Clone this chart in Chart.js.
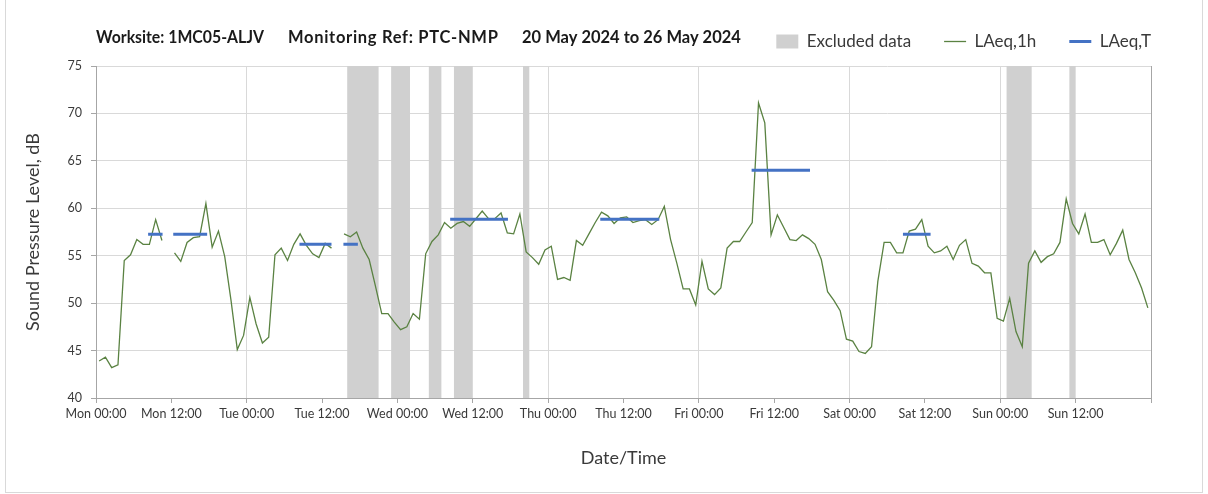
<!DOCTYPE html>
<html>
<head>
<meta charset="utf-8">
<script src="https://cdn.jsdelivr.net/npm/chart.js@4.4.1/dist/chart.umd.min.js"></script>
<style>
  html, body { margin: 0; padding: 0; background: #fff; }
  #wrap { position: absolute; left: 0; top: 0; width: 1208px; height: 494px; }
  #frame { position: absolute; left: 5px; top: -1px; width: 1198px; height: 494px; border: 1px solid #d9d9d9; box-sizing: border-box; pointer-events: none; }
</style>
</head>
<body>
<div id="wrap"><canvas id="myChart"></canvas></div>
<div id="frame"></div>
<script>
// x axis labels, one every 12 hours from Mon 00:00
var tickLabels = ["Mon 00:00", "Mon 12:00", "Tue 00:00", "Tue 12:00", "Wed 00:00", "Wed 12:00",
  "Thu 00:00", "Thu 12:00", "Fri 00:00", "Fri 12:00", "Sat 00:00", "Sat 12:00", "Sun 00:00", "Sun 12:00"];

// hourly LAeq,1h (dB), hour 0 = Mon 00:00
var laeq1h = [
  43.9, 44.3, 43.2, 43.5, 54.5, 55.1, 56.7, 56.2, 56.2, 58.8, 56.6, null,
  55.3, 54.4, 56.4, 56.9, 57.0, 60.5, 55.9, 57.6, 54.9, 50.3, 45.1, 46.6,
  50.6, 47.8, 45.8, 46.4, 55.1, 55.8, 54.5, 56.2, 57.3, 56.1, 55.2, 54.8,
  56.3, 55.8, null, 57.3, 57.0, 57.5, 55.8, 54.6, 51.8, 48.9, 48.9, 48.0,
  47.2, 47.5, 48.9, 48.3, 55.2, 56.5, 57.2, 58.5, 57.9, 58.4, 58.6, 58.1,
  58.9, 59.7, 58.9, 58.9, 59.5, 57.4, 57.3, 59.4, 55.4, 54.8, 54.1, 55.6,
  56.0, 52.5, 52.7, 52.4, 56.6, 56.1, 57.3, 58.5, 59.6, 59.2, 58.4, 59.0,
  59.1, 58.5, 58.7, 58.8, 58.3, 58.8, 60.2, 56.7, 54.2, 51.5, 51.5, 49.8,
  54.4, 51.5, 50.9, 51.6, 55.8, 56.5, 56.5, 57.5, 58.5, 71.1, 69.0, 57.2,
  59.3, 58.0, 56.7, 56.6, 57.2, 56.8, 56.2, 54.6, 51.2, 50.3, 49.2, 46.2,
  46.0, 44.9, 44.7, 45.4, 52.3, 56.4, 56.4, 55.3, 55.3, 57.6, 57.8, 58.8,
  56.0, 55.3, 55.5, 56.0, 54.6, 56.1, 56.7, 54.2, 53.9, 53.2, 53.2, 48.4,
  48.1, 50.5, 47.0, 45.4, 54.2, 55.5, 54.3, 54.9, 55.2, 56.4, 61.0, 58.4,
  57.3, 59.4, 56.4, 56.4, 56.7, 55.1, 56.3, 57.7, 54.6, 53.2, 51.6, 49.5
];

// LAeq,T periods (hours from Mon 00:00) and level (dB)
var periodStart = [8.3, 12.3, 32.4, 39.4, 56.4, 80.3, 104.4, 128.5];
var periodEnd = [10.6, 17.7, 37.5, 41.7, 65.6, 89.7, 113.7, 132.9];
var periodLevel = [57.25, 57.25, 56.2, 56.2, 58.85, 58.85, 64.0, 57.25];

// excluded data windows (hours from Mon 00:00)
var excludedStart = [40, 47, 53, 57, 68, 145, 155];
var excludedEnd = [45, 50, 55, 60, 69, 149, 156];

var hourlyPoints = laeq1h.map(function (v, i) { return { x: i + 0.5, y: v }; });
var periodPoints = [];
periodLevel.forEach(function (v, i) {
  periodPoints.push({ x: periodStart[i], y: v }, { x: periodEnd[i], y: v }, { x: periodEnd[i], y: null });
});

var excludedBands = {
  id: 'excludedBands',
  beforeDatasetsDraw: function (chart) {
    var ctx = chart.ctx, xs = chart.scales.x, area = chart.chartArea;
    ctx.save();
    ctx.fillStyle = '#d0d0d0';
    excludedStart.forEach(function (s, i) {
      var x0 = xs.getPixelForValue(s), x1 = xs.getPixelForValue(excludedEnd[i]);
      ctx.fillRect(x0, area.top, x1 - x0, area.bottom - area.top);
    });
    ctx.restore();
  }
};

var headerText = {
  id: 'headerText',
  afterDraw: function (chart) {
    var ctx = chart.ctx;
    ctx.save();
    ctx.font = 'bold 16.5px Lato';
    ctx.fillStyle = '#1a1a1a';
    ctx.textBaseline = 'middle';
    ctx.fillText('Worksite: 1MC05-ALJV', 96, 38, 168);
    ctx.letterSpacing = '0.7px';
    ctx.fillText('Monitoring Ref: PTC-NMP', 288, 38);
    ctx.letterSpacing = '0px';
    ctx.fillText('20 May 2024 to 26 May 2024', 522, 38);
    ctx.restore();
  }
};

Chart.defaults.font.family = 'Lato';
Chart.defaults.color = '#3a3a3a';

var ctx = document.getElementById("myChart").getContext('2d');
var myChart = new Chart(ctx, {
  type: 'line',
  data: {
    datasets: [{
      label: 'Excluded data',
      data: [],
      pointStyle: 'rect',
      backgroundColor: '#d0d0d0',
      borderColor: '#d0d0d0',
      borderWidth: 0,
      order: 2
    }, {
      label: 'LAeq,1h',
      data: hourlyPoints,
      borderColor: '#5a8242',
      backgroundColor: '#5a8242',
      borderWidth: 1.3,
      pointRadius: 0,
      pointHoverRadius: 0,
      pointStyle: 'line',
      spanGaps: false,
      order: 1
    }, {
      label: 'LAeq,T',
      data: periodPoints,
      borderColor: '#4472c4',
      backgroundColor: '#4472c4',
      borderWidth: 3,
      pointRadius: 0,
      pointHoverRadius: 0,
      pointStyle: 'line',
      spanGaps: false,
      order: 0
    }]
  },
  options: {
    responsive: true,
    maintainAspectRatio: false,
    animation: false,
    layout: { padding: { left: 0, right: 24, top: 0, bottom: 0 } },
    plugins: {
      tooltip: { enabled: false },
      legend: {
        position: 'top',
        align: 'end',
        labels: {
          usePointStyle: true,
          pointStyleWidth: 22,
          boxHeight: 14,
          padding: 33,
          color: '#3a3a3a',
          font: { size: 17 },
          sort: function (a, b) { return a.datasetIndex - b.datasetIndex; }
        }
      }
    },
    scales: {
      x: {
        type: 'linear',
        min: 0,
        max: 168,
        afterFit: function (s) { s.height = 96; },
        ticks: {
          stepSize: 12,
          autoSkip: false,
          maxRotation: 0,
          padding: 3,
          font: { size: 12.5 },
          callback: function (v) { return tickLabels[v / 12] || ''; }
        },
        grid: {
          color: function (c) { return c.tick && c.tick.value % 24 === 0 ? '#d9d9d9' : 'rgba(0,0,0,0)'; },
          tickColor: '#a6a6a6',
          tickLength: 5
        },
        border: { color: '#a6a6a6' },
        title: { display: true, text: 'Date/Time', font: { size: 18 }, padding: { top: 0, bottom: 25 } }
      },
      // empty strip between legend and plot
      x2: {
        type: 'linear',
        position: 'top',
        afterFit: function (s) { s.height = 6; },
        grid: { display: false },
        ticks: { display: false },
        border: { display: false }
      },
      y: {
        min: 40,
        max: 75,
        afterFit: function (s) { s.width = 96; },
        ticks: { stepSize: 5, padding: 9, font: { size: 12.5 } },
        grid: { color: '#d9d9d9', tickColor: '#a6a6a6', tickLength: 5 },
        border: { color: '#a6a6a6' },
        title: { display: true, text: 'Sound Pressure Level, dB', font: { size: 18 }, padding: { top: 22, bottom: 0 } }
      },
      y2: {
        position: 'right',
        afterFit: function (s) { s.width = 33; },
        grid: { display: false },
        ticks: { display: false },
        border: { display: true, color: '#a6a6a6' }
      }
    }
  },
  plugins: [excludedBands, headerText]
});
</script>
</body>
</html>
